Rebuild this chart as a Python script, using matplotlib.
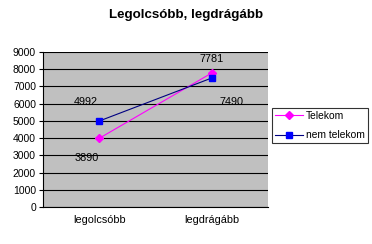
import numpy as np
import matplotlib
matplotlib.use("Agg")
import matplotlib.pyplot as plt

categories = ["legolcsóbb", "legdrágább"]
telekom = [3990, 7781]
nem_telekom = [4992, 7490]
telekom_labels = ["3890", "7781"]
nem_telekom_labels = ["4992", "7490"]

plt.rcParams['font.family'] = ['Liberation Sans', 'DejaVu Sans']

fig = plt.figure(figsize=(3.72, 2.44), dpi=100)
ax = fig.add_axes([43/372, 1 - 207/244, 225/372, 155/244])
ax.set_facecolor("#c0c0c0")

x = np.arange(len(categories))
ax.plot(x, telekom, color="#ff00ff", lw=0.8, marker="D", ms=4, label="Telekom", zorder=3)
ax.plot(x, nem_telekom, color="#000080", lw=0.8, marker="s", ms=4.5,
        mfc="#0000ff", mec="#0000ff", label="nem telekom", zorder=3)

# data labels, placed like the original
ax.annotate(nem_telekom_labels[0], (x[0], nem_telekom[0]), xytext=(-10, 14), textcoords="offset points",
            ha="center", va="center", fontsize=7.8)
ax.annotate(telekom_labels[0], (x[0], telekom[0]), xytext=(-9, -14), textcoords="offset points",
            ha="center", va="center", fontsize=7.8)
ax.annotate(telekom_labels[1], (x[1], telekom[1]), xytext=(0, 10), textcoords="offset points",
            ha="center", va="center", fontsize=7.8)
ax.annotate(nem_telekom_labels[1], (x[1], nem_telekom[1]), xytext=(14, -17), textcoords="offset points",
            ha="center", va="center", fontsize=7.8)

ax.set_xlim(-0.5, 1.5)
ax.set_ylim(0, 9000)
ax.set_yticks(np.arange(0, 9001, 1000))
ax.set_xticks(x)
ax.set_xticklabels(categories)
ax.tick_params(axis="y", direction="out", length=3, width=0.8, labelsize=7.5, pad=2)
ax.tick_params(axis="x", length=0, labelsize=7.8, pad=6)
ax.grid(axis="y", color="black", lw=0.8)
ax.set_axisbelow(True)
for s in ["top", "right"]:
    ax.spines[s].set_visible(False)
ax.spines["left"].set_linewidth(0.8)
ax.spines["bottom"].set_linewidth(0.8)

fig.text(186/372, 1 - 15/244, "Legolcsóbb, legdrágább", ha="center", va="center",
         fontsize=9.6, fontweight="bold")

leg = fig.legend(loc="upper left", bbox_to_anchor=(272/372, 1 - 108/244), fontsize=7.4,
                 frameon=True, fancybox=False, edgecolor="black", borderpad=0.3,
                 handlelength=2.7, handletextpad=0.3, labelspacing=0.9, borderaxespad=0)
leg.get_frame().set_linewidth(0.8)

fig.savefig("out.png", dpi=100)
